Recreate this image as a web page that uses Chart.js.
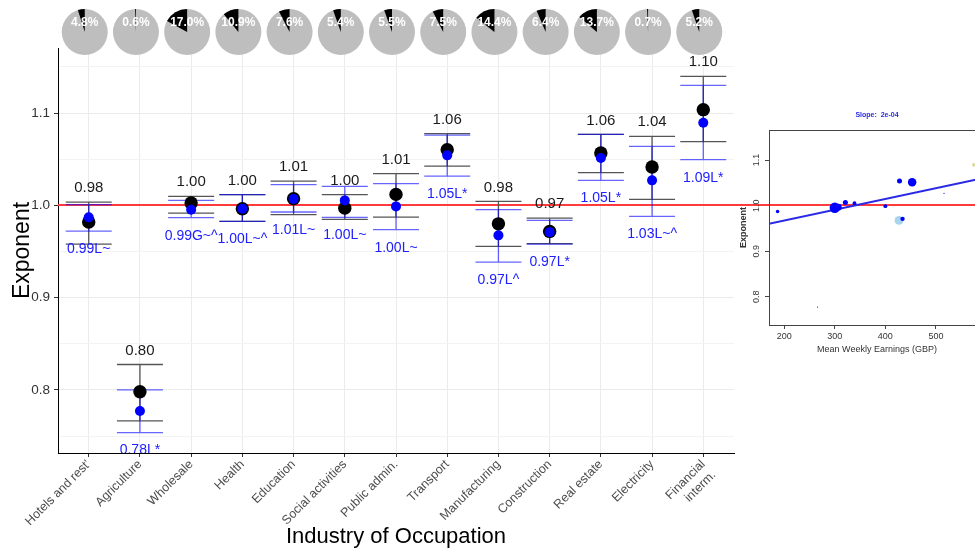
<!DOCTYPE html>
<html>
<head>
<meta charset="utf-8">
<script src="https://cdn.jsdelivr.net/npm/chart.js@4.4.0/dist/chart.umd.min.js"></script>
<style>
  html, body { margin: 0; padding: 0; background: #fff; overflow: hidden; }
  #wrap { position: relative; width: 975px; height: 555px; overflow: hidden; }
  #main { position: absolute; left: 0; top: 0; }
  #inset { position: absolute; left: 734px; top: 90px; }
</style>
</head>
<body>
<div id="wrap">
  <canvas id="main" width="975" height="555"></canvas>
  <canvas id="inset" width="266" height="270"></canvas>
</div>
<script>
// ---- data ----
var cats = ["Hotels and rest'", 'Agriculture', 'Wholesale', 'Health', 'Education', 'Social activities',
  'Public admin.', 'Transport', 'Manufacturing', 'Construction', 'Real estate', 'Electricity', ['Financial', 'interm.']];
var sharePct = [4.8, 0.6, 17.0, 10.9, 7.6, 5.4, 5.5, 7.5, 14.4, 6.4, 13.7, 0.7, 5.2];

var blackVals = [0.982, 0.798, 1.0025, 0.9964, 1.0073, 0.997, 1.0119, 1.0603, 0.980, 0.9718, 1.0567, 1.0415, 1.1037];
var blackLo   = [0.958, 0.7665, 0.9917, 0.9827, 0.990, 0.9848, 0.9873, 1.0426, 0.9556, 0.9585, 1.0354, 1.0065, 1.069];
var blackHi   = [1.0036, 0.8276, 1.0098, 1.0116, 1.0263, 1.0116, 1.0343, 1.0777, 1.0043, 0.9862, 1.0769, 1.0748, 1.1398];
var blackText = ['0.98', '0.80', '1.00', '1.00', '1.01', '1.00', '1.01', '1.06', '0.98', '0.97', '1.06', '1.04', '1.10'];

var blueVals = [0.987, 0.7773, 0.9953, 0.9964, 1.007, 1.0054, 0.9989, 1.0542, 0.9675, 0.971, 1.0513, 1.0271, 1.0896];
var blueLo   = [0.972, 0.7538, 0.9867, 0.9827, 0.9928, 0.987, 0.9737, 1.0317, 0.9386, 0.958, 1.0271, 0.9881, 1.0495];
var blueHi   = [1.0008, 0.800, 1.0054, 1.0116, 1.0224, 1.0206, 1.0235, 1.0762, 0.9953, 0.9837, 1.0769, 1.0639, 1.130];
var blueText = ['0.99L~', '0.78L*', '0.99G~^', '1.00L~^', '1.01L~', '1.00L~', '1.00L~', '1.05L*', '0.97L^', '0.97L*', '1.05L*', '1.03L~^', '1.09L*'];

var refLine = 1.0;
var yTicks = [0.75, 0.8, 0.85, 0.9, 0.95, 1.0, 1.05, 1.1, 1.15];

// inset: earnings vs exponent
var earnings = [187, 266, 300, 307, 321, 339, 400, 428, 427, 434, 453, 516, 575];
var insetColors = ['#0000ff', '#0000ff', '#0000ff', '#0000ff', '#0000ff', '#0000ff', '#0000ff',
  '#0000ff', '#a8d4ee', '#0000ff', '#0000ff', '#0000ff', '#dcd9a8'];
var fitX = [170, 597];
var fitY = [0.960, 1.061];
var insetXTicks = [200, 300, 400, 500];
var insetYTicks = [0.8, 0.9, 1.0, 1.1];

Chart.defaults.font.family = "'Liberation Sans', Arial, sans-serif";

// red reference line (2 rows wide so the colour survives)
function drawRef(ctx, ys, x0, x1) {
  var p = ys.getPixelForValue(refLine);
  var yy = 2 * Math.floor(p / 2) + 1;
  ctx.save();
  ctx.strokeStyle = '#ff3b3b';
  ctx.lineWidth = 2;
  ctx.beginPath();
  ctx.moveTo(x0, yy); ctx.lineTo(x1, yy);
  ctx.stroke();
  ctx.restore();
}

// ---- plugins for the main chart ----
function drawBars(ctx, xs, ys, lo, hi, color) {
  ctx.strokeStyle = color;
  ctx.lineWidth = 1.3;
  lo.forEach(function(l, i) {
    var px = xs.getPixelForValue(i);
    var a = ys.getPixelForValue(l), b = ys.getPixelForValue(hi[i]);
    ctx.beginPath();
    ctx.moveTo(px, a); ctx.lineTo(px, b);
    ctx.moveTo(px - 23, a); ctx.lineTo(px + 23, a);
    ctx.moveTo(px - 23, b); ctx.lineTo(px + 23, b);
    ctx.stroke();
  });
}

var errorBars = {
  id: 'errorBars',
  beforeDatasetsDraw: function(chart) {
    var ctx = chart.ctx, ca = chart.chartArea;
    drawRef(ctx, chart.scales.y, ca.left, ca.right);
    ctx.save();
    drawBars(ctx, chart.scales.x, chart.scales.y, blackLo, blackHi, '#555555');
    drawBars(ctx, chart.scales.x, chart.scales.y, blueLo, blueHi, 'rgba(0,0,255,0.6)');
    ctx.restore();
  }
};

var valueLabels = {
  id: 'valueLabels',
  afterDatasetsDraw: function(chart) {
    var ctx = chart.ctx, ca = chart.chartArea, xs = chart.scales.x, ys = chart.scales.y;
    ctx.save();
    ctx.beginPath();
    ctx.rect(ca.left, ca.top, ca.right - ca.left, ca.bottom - ca.top);
    ctx.clip();
    ctx.textAlign = 'center';
    ctx.textBaseline = 'middle';
    ctx.font = "15px 'Liberation Sans', Arial, sans-serif";
    ctx.fillStyle = '#1a1a1a';
    blackText.forEach(function(t, i) {
      ctx.fillText(t, xs.getPixelForValue(i), ys.getPixelForValue(blackHi[i]) - 14);
    });
    ctx.font = "14px 'Liberation Sans', Arial, sans-serif";
    ctx.fillStyle = '#2020ff';
    blueText.forEach(function(t, i) {
      ctx.fillText(t, xs.getPixelForValue(i), ys.getPixelForValue(blueLo[i]) + 18);
    });
    ctx.restore();
  }
};

var pies = {
  id: 'pies',
  afterDraw: function(chart) {
    var ctx = chart.ctx, xs = chart.scales.x;
    ctx.save();
    sharePct.forEach(function(p, i) {
      var cx = xs.getPixelForValue(i) - 4, cy = 32, r = 23;
      ctx.fillStyle = '#bebebe';
      ctx.beginPath();
      ctx.arc(cx, cy, r, 0, Math.PI * 2);
      ctx.fill();
      ctx.fillStyle = '#000';
      ctx.beginPath();
      ctx.moveTo(cx, cy);
      ctx.arc(cx, cy, r, -Math.PI / 2, -Math.PI / 2 - p / 100 * Math.PI * 2, true);
      ctx.closePath();
      ctx.fill();
      ctx.fillStyle = '#fff';
      ctx.font = "bold 12px 'Liberation Sans', Arial, sans-serif";
      ctx.textAlign = 'center';
      ctx.textBaseline = 'middle';
      ctx.fillText(p.toFixed(1) + '%', cx, cy - 9);
    });
    ctx.restore();
  }
};

function isMajor(v) { return Math.round(v * 100) % 10 === 0; }

// ---- main chart ----
var mainChart = new Chart(document.getElementById('main'), {
  type: 'scatter',
  data: {
    datasets: [
      {
        data: cats.map(function(c, i) { return {x: i, y: blueVals[i]}; }),
        backgroundColor: '#0000ff', borderWidth: 0, pointRadius: 5, order: 1
      },
      {
        data: cats.map(function(c, i) { return {x: i, y: blackVals[i]}; }),
        backgroundColor: '#000', borderWidth: 0, pointRadius: 6.7, order: 2
      }
    ]
  },
  options: {
    responsive: false,
    animation: false,
    layout: { padding: { top: 48, right: 241, left: 0, bottom: 0 } },
    plugins: { legend: { display: false }, tooltip: { enabled: false } },
    scales: {
      x: {
        type: 'linear', min: -0.6, max: 12.6,
        afterBuildTicks: function(s) { s.ticks = cats.map(function(c, i) { return {value: i}; }); },
        afterFit: function(s) { s.height = 102; },
        ticks: {
          autoSkip: false, minRotation: 45, maxRotation: 45, padding: 0,
          color: '#4d4d4d', font: { size: 12.5 },
          callback: function(v) { return cats[v]; }
        },
        grid: { color: '#ebebeb', tickColor: '#333', tickLength: 4 },
        border: { display: true, color: '#000', width: 1 },
        title: { display: true, text: 'Industry of Occupation', color: '#000', font: { size: 22 }, padding: { top: 0, bottom: 5 } }
      },
      y: {
        min: 0.7317, max: 1.1705,
        afterBuildTicks: function(s) { s.ticks = yTicks.map(function(v) { return {value: v}; }); },
        afterFit: function(s) { s.width = 58; },
        ticks: {
          padding: 4, color: '#333', font: { size: 13.5 },
          callback: function(v) { return isMajor(v) ? v.toFixed(1) : ''; }
        },
        grid: {
          tickLength: 4,
          color: function(c) { return c.tick && isMajor(c.tick.value) ? '#ebebeb' : '#f3f3f3'; },
          tickColor: function(c) { return c.tick && isMajor(c.tick.value) ? '#333' : 'rgba(0,0,0,0)'; }
        },
        border: { display: true, color: '#000', width: 1 },
        title: { display: true, text: 'Exponent', color: '#000', font: { size: 23, lineHeight: 1 }, padding: { top: 11, bottom: 0 } }
      }
    }
  },
  plugins: [errorBars, valueLabels, pies]
});

// ---- inset plugins ----
var insetFrame = {
  id: 'insetFrame',
  beforeDatasetsDraw: function(chart) {
    drawRef(chart.ctx, chart.scales.y, 0, chart.chartArea.right);
  },
  afterDraw: function(chart) {
    var ctx = chart.ctx, ca = chart.chartArea, ys = chart.scales.y;
    ctx.save();
    ctx.strokeStyle = '#444';
    ctx.lineWidth = 1;
    ctx.strokeRect(Math.round(ca.left) + 0.5, Math.round(ca.top) + 0.5,
      Math.round(ca.right - ca.left), Math.round(ca.bottom - ca.top));
    ctx.fillStyle = '#333';
    ctx.font = "9px 'Liberation Sans', Arial, sans-serif";
    ctx.textAlign = 'center';
    ctx.textBaseline = 'middle';
    insetYTicks.forEach(function(v) {
      ctx.save();
      ctx.translate(ca.left - 12, ys.getPixelForValue(v));
      ctx.rotate(-Math.PI / 2);
      ctx.fillText(v.toFixed(1), 0, 0);
      ctx.restore();
    });
    ctx.restore();
  }
};

var insetChart = new Chart(document.getElementById('inset'), {
  type: 'scatter',
  data: {
    datasets: [
      {
        data: earnings.map(function(e, i) { return {x: e, y: blueVals[i]}; }),
        backgroundColor: insetColors, borderWidth: 0,
        pointRadius: sharePct.map(function(p) { return 0.28 * p + 0.4; }),
        order: 1
      },
      {
        data: fitX.map(function(v, i) { return {x: v, y: fitY[i]}; }),
        showLine: true, borderColor: '#2a2ae6', borderWidth: 2, pointRadius: 0, order: 2
      }
    ]
  },
  options: {
    responsive: false,
    animation: false,
    layout: { padding: { left: 0, right: 15, top: 0, bottom: 0 } },
    plugins: {
      legend: { display: false }, tooltip: { enabled: false },
      title: {
        display: true, text: 'Slope:  2e-04', color: '#2a2ae6', fullSize: false,
        font: { size: 7, weight: 'bold' }, padding: { top: 21, bottom: 10.6 }
      }
    },
    scales: {
      x: {
        type: 'linear', min: 170, max: 597,
        afterBuildTicks: function(s) { s.ticks = insetXTicks.map(function(v) { return {value: v}; }); },
        afterFit: function(s) { s.height = 35; },
        ticks: { color: '#333', font: { size: 9 }, padding: 2 },
        grid: { drawOnChartArea: false, tickLength: 4, tickColor: '#444' },
        border: { display: false },
        title: { display: true, text: 'Mean Weekly Earnings (GBP)', color: '#333', font: { size: 9 }, padding: { top: 0, bottom: 5 } }
      },
      y: {
        min: 0.738, max: 1.166,
        afterBuildTicks: function(s) { s.ticks = insetYTicks.map(function(v) { return {value: v}; }); },
        afterFit: function(s) { s.width = 35; },
        ticks: { display: false },
        grid: { drawOnChartArea: false, tickLength: 4, tickColor: '#444' },
        border: { display: false },
        title: { display: true, text: 'Exponent', color: '#333', font: { size: 9, weight: 'bold' }, padding: { top: 4, bottom: 0 } }
      }
    }
  },
  plugins: [insetFrame]
});
</script>
</body>
</html>
